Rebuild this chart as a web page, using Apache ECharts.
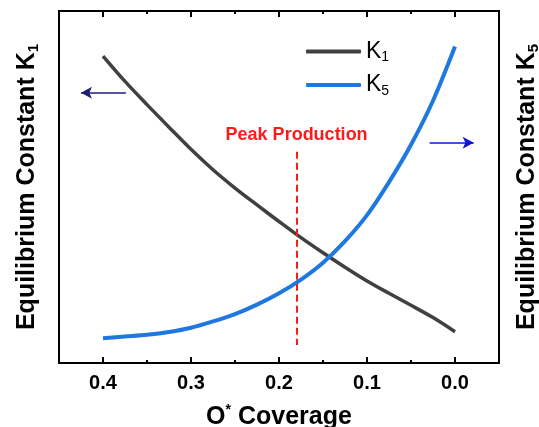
<!DOCTYPE html>
<html>
<head>
<meta charset="utf-8">
<script src="https://cdn.jsdelivr.net/npm/echarts@6/dist/echarts.min.js"></script>
<style>
  html, body { margin: 0; padding: 0; background: #fff; }
  #main { width: 539px; height: 427px; }
</style>
</head>
<body>
<div id="main"></div>
<script>
// O* coverage (x axis runs from 0.4 down to 0.0)
var coverage = [0.400, 0.375, 0.350, 0.325, 0.300, 0.275, 0.250, 0.225, 0.200,
                0.175, 0.150, 0.125, 0.100, 0.075, 0.050, 0.025, 0.000];
// K1 on left axis, K5 on right axis (arbitrary units, no tick labels)
var k1 = [87.2, 80.0, 73.4, 67.0, 60.7, 54.9, 49.7, 44.9, 40.2,
          35.6, 31.3, 27.2, 23.3, 19.8, 16.4, 12.9, 8.9];
var k5 = [7.0, 7.5, 8.0, 8.8, 10.0, 11.8, 13.9, 16.6, 19.8,
          23.7, 28.5, 34.6, 42.0, 51.4, 62.0, 74.5, 89.9];
var majorTicks = [0.0, 0.1, 0.2, 0.3, 0.4];
var minorTicks = [0.05, 0.15, 0.25, 0.35];
var peakCoverage = 0.18;

var font = 'Arial, "Liberation Sans", sans-serif';
var chart = echarts.init(document.getElementById('main'));

function pairs(ys) {
  return coverage.map(function (x, i) { return [x, ys[i]]; });
}

// 副坐标轴：只画刻度
function tickAxis(pos, values, len) {
  return {
    type: 'value', inverse: true, min: -0.05, max: 0.45, position: pos,
    axisLine: { show: pos === 'top', onZero: false, lineStyle: { color: '#000', width: 2 } },
    axisTick: { show: true, inside: true, length: len, customValues: values,
      lineStyle: { color: '#000', width: 2 } },
    axisLabel: { show: false },
    splitLine: { show: false }
  };
}

function nameRich() {
  return {
    a: { fontSize: 25, fontWeight: 'bold', color: '#000', fontFamily: font, lineHeight: 28, verticalAlign: 'middle' },
    s: { fontSize: 15, fontWeight: 'bold', color: '#000', fontFamily: font, lineHeight: 12, verticalAlign: 'bottom' }
  };
}

var option = {
  animation: false,
  textStyle: { fontFamily: font },
  grid: { left: 59, right: 40, top: 11, bottom: 64, outerBoundsMode: 'none', containLabel: false },
  legend: {
    orient: 'vertical', left: 306, top: 40, padding: 0,
    itemWidth: 55, itemHeight: 4, itemGap: 9,
    icon: 'roundRect',
    data: ['K1', 'K5'],
    formatter: function (name) { return '{k|K}{s|' + name.slice(1) + '}'; },
    textStyle: {
      rich: {
        k: { fontSize: 23, lineHeight: 26, color: '#000', fontFamily: font, verticalAlign: 'middle' },
        s: { fontSize: 14, lineHeight: 12, color: '#000', fontFamily: font, verticalAlign: 'bottom' }
      }
    }
  },
  xAxis: [
    {
      type: 'value', inverse: true, min: -0.05, max: 0.45, position: 'bottom',
      axisLine: { onZero: false, lineStyle: { color: '#000', width: 2 } },
      axisTick: { inside: true, length: 6, customValues: majorTicks,
        lineStyle: { color: '#000', width: 2 } },
      axisLabel: { customValues: majorTicks, margin: 10, fontSize: 20, fontWeight: 'bold',
        color: '#000', fontFamily: font,
        formatter: function (v) { return v.toFixed(1); } },
      splitLine: { show: false },
      name: '{a|O}{sup|*}{a| Coverage}',
      nameLocation: 'middle', nameGap: 40,
      nameTextStyle: {
        rich: {
          a: { fontSize: 25, fontWeight: 'bold', color: '#000', fontFamily: font, lineHeight: 28 },
          sup: { fontSize: 14, fontWeight: 'bold', color: '#000', fontFamily: font,
            verticalAlign: 'top', lineHeight: 12 }
        }
      }
    },
    tickAxis('bottom', minorTicks, 3),
    tickAxis('top', majorTicks, 6),
    tickAxis('top', minorTicks, 3)
  ],
  yAxis: [
    {
      type: 'value', min: 0, max: 100, position: 'left',
      axisLine: { show: true, onZero: false, lineStyle: { color: '#000', width: 2 } },
      axisTick: { show: false }, axisLabel: { show: false }, splitLine: { show: false },
      name: '{a|Equilibrium Constant K}{s|1}',
      nameLocation: 'middle', nameGap: 18,
      nameTextStyle: { rich: nameRich() }
    },
    {
      type: 'value', min: 0, max: 100, position: 'right',
      axisLine: { show: true, onZero: false, lineStyle: { color: '#000', width: 2 } },
      axisTick: { show: false }, axisLabel: { show: false }, splitLine: { show: false },
      name: '{a|Equilibrium Constant K}{s|5}',
      nameLocation: 'middle', nameGap: 14,
      nameTextStyle: { rich: nameRich() }
    }
  ],
  series: [
    {
      name: 'K1', type: 'line', xAxisIndex: 0, yAxisIndex: 0,
      data: pairs(k1), smooth: 0.3, symbol: 'none',
      lineStyle: { color: '#404040', width: 3.5 },
      itemStyle: { color: '#404040' },
      markLine: {
        silent: true, animation: false,
        data: [
          // 左箭头
          [{ coord: [0.374, 76.8], symbol: 'none',
             lineStyle: { color: '#1c1c78', width: 1.5, type: 'solid' }, label: { show: false } },
           { coord: [0.425, 76.8], symbol: 'arrow', symbolSize: [9, 11] }],
          // Peak Production 虚线
          [{ coord: [peakCoverage, 60], symbol: 'none',
             lineStyle: { color: '#ff1a1a', width: 2, type: [7, 4] },
             label: { show: true, position: 'start', distance: 8, formatter: 'Peak Production',
               color: '#ff1a1a', fontSize: 18, fontWeight: 'bold', fontFamily: font } },
           { coord: [peakCoverage, 5.1], symbol: 'none' }]
        ]
      }
    },
    {
      name: 'K5', type: 'line', xAxisIndex: 0, yAxisIndex: 1,
      data: pairs(k5), smooth: 0.3, symbol: 'none',
      lineStyle: { color: '#1e78e0', width: 4 },
      itemStyle: { color: '#1e78e0' },
      markLine: {
        silent: true, animation: false,
        data: [
          // 右箭头
          [{ coord: [0.0288, 62.6], symbol: 'none',
             lineStyle: { color: '#0a14d2', width: 1.5, type: 'solid' }, label: { show: false } },
           { coord: [-0.0212, 62.6], symbol: 'arrow', symbolSize: [9, 11] }]
        ]
      }
    }
  ]
};

chart.setOption(option);
</script>
</body>
</html>
